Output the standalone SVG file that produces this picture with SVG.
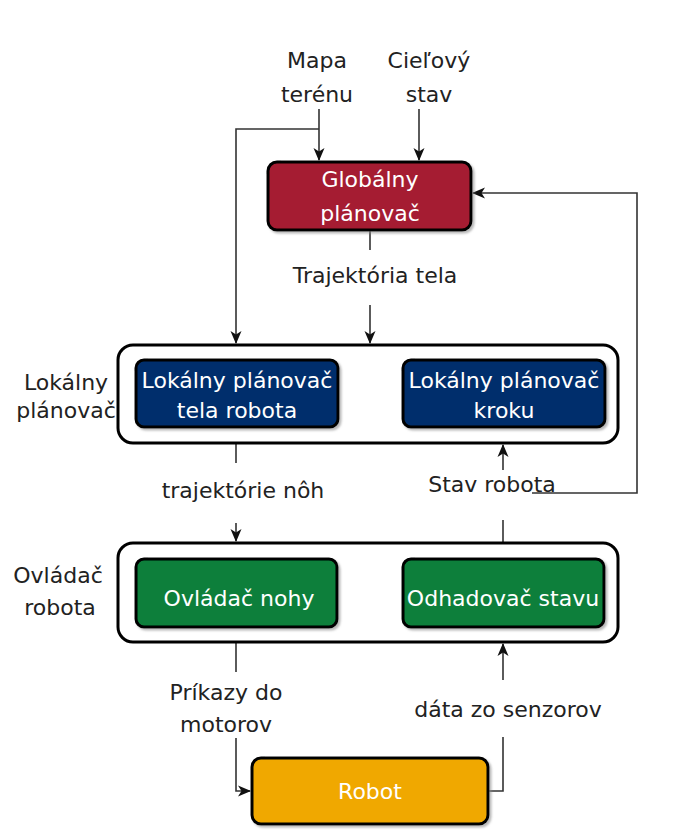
<svg xmlns="http://www.w3.org/2000/svg" width="675" height="835" viewBox="0 0 675 835">
<defs>
<marker id="arr" markerUnits="userSpaceOnUse" markerWidth="13" markerHeight="13" viewBox="0 0 13 13" refX="12" refY="6.5" orient="auto">
<path d="M0,1 L13,6.5 L0,12 L3.5,6.5 z" fill="#111"/>
</marker>
<filter id="sh" x="-5%" y="-5%" width="115%" height="120%">
<feDropShadow dx="2" dy="2" stdDeviation="1.2" flood-color="#888" flood-opacity="0.6"/>
</filter>
</defs>
<style>
text{font-family:"DejaVu Sans","Liberation Sans",sans-serif;font-size:22px;text-anchor:middle}
.lbl{fill:#222}
.wt{fill:#fff}
.outer{fill:#fff;stroke:#000;stroke-width:3}
.inner{stroke:#000;stroke-width:3}
.ln{fill:none;stroke:#333;stroke-width:1.6}
</style>
<rect width="675" height="835" fill="#fff"/>

<g id="connectors">
<path class="ln" d="M319,109 V160" marker-end="url(#arr)"/>
<path class="ln" d="M319,129 H236 V343" marker-end="url(#arr)"/>
<path class="ln" d="M419,109 V160" marker-end="url(#arr)"/>
<path class="ln" d="M370,230 V250"/>
<path class="ln" d="M370,305 V343" marker-end="url(#arr)"/>
<path class="ln" d="M532,493 H637 V193 H473" marker-end="url(#arr)"/>
<path class="ln" d="M236,443 V463"/>
<path class="ln" d="M236,523 V541" marker-end="url(#arr)"/>
<path class="ln" d="M503,543 V520"/>
<path class="ln" d="M503,470 V445" marker-end="url(#arr)"/>
<path class="ln" d="M236,642 V672"/>
<path class="ln" d="M236,738 V791 H250" marker-end="url(#arr)"/>
<path class="ln" d="M488,791 H503 V737"/>
<path class="ln" d="M503,680 V644" marker-end="url(#arr)"/>
</g>

<g id="inputs">
<text class="lbl" x="317" y="68">Mapa</text>
<text class="lbl" x="317" y="102">terénu</text>
<text class="lbl" x="429" y="68">Cieľový</text>
<text class="lbl" x="429" y="102">stav</text>
</g>

<g id="global-planner">
<rect x="268" y="162" width="203" height="68" rx="9" fill="#A51C30" class="inner" filter="url(#sh)"/>
<text class="wt" x="370" y="187">Globálny</text>
<text class="wt" x="370" y="221">plánovač</text>
</g>

<g id="edge-labels">
<text class="lbl" x="375" y="283">Trajektória tela</text>
<text class="lbl" x="243" y="498">trajektórie nôh</text>
<text class="lbl" x="492" y="492">Stav robota</text>
<text class="lbl" x="226" y="700">Príkazy do</text>
<text class="lbl" x="226" y="732">motorov</text>
<text class="lbl" x="508" y="717">dáta zo senzorov</text>
</g>

<g id="local-planner">
<rect class="outer" x="118" y="345" width="500" height="98" rx="15"/>
<text class="lbl" x="66" y="390">Lokálny</text>
<text class="lbl" x="66" y="418">plánovač</text>
</g>
<g id="local-body-planner">
<rect x="136" y="360" width="202" height="67" rx="8" fill="#002F6C" class="inner" filter="url(#sh)"/>
<text class="wt" x="237" y="388">Lokálny plánovač</text>
<text class="wt" x="237" y="418">tela robota</text>
</g>
<g id="local-step-planner">
<rect x="403" y="360" width="202" height="67" rx="8" fill="#002F6C" class="inner" filter="url(#sh)"/>
<text class="wt" x="504" y="388">Lokálny plánovač</text>
<text class="wt" x="504" y="418">kroku</text>
</g>

<g id="robot-controller">
<rect class="outer" x="118" y="543" width="500" height="99" rx="15"/>
<text class="lbl" x="58" y="583">Ovládač</text>
<text class="lbl" x="60" y="615">robota</text>
</g>
<g id="leg-controller">
<rect x="136" y="559" width="201" height="68" rx="8" fill="#097F3B" class="inner" filter="url(#sh)"/>
<text class="wt" x="239" y="606">Ovládač nohy</text>
</g>
<g id="state-estimator">
<rect x="403" y="559" width="201" height="68" rx="8" fill="#097F3B" class="inner" filter="url(#sh)"/>
<text class="wt" x="503" y="606">Odhadovač stavu</text>
</g>

<g id="robot">
<rect x="252" y="758" width="236" height="66" rx="9" fill="#F0A800" class="inner" filter="url(#sh)"/>
<text class="wt" x="370" y="799">Robot</text>
</g>
</svg>
